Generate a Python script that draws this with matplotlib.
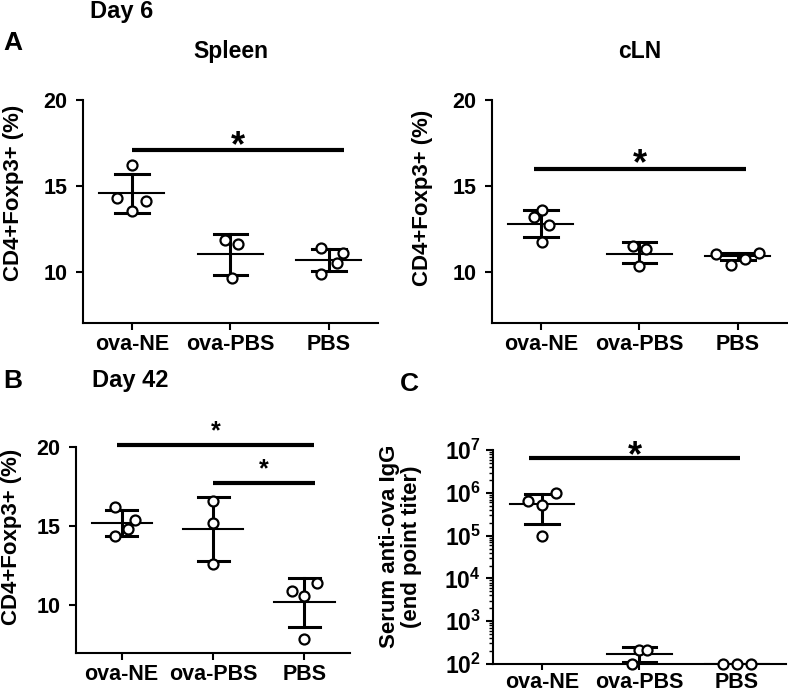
import matplotlib
matplotlib.use('Agg')
import matplotlib.pyplot as plt
from matplotlib.ticker import LogLocator, FixedLocator, FixedFormatter, NullFormatter

plt.rcParams['font.family'] = ['Liberation Sans', 'DejaVu Sans']
plt.rcParams['font.weight'] = 'bold'
plt.rcParams['mathtext.fontset'] = 'custom'
plt.rcParams['mathtext.bf'] = 'Liberation Sans:bold'
plt.rcParams['mathtext.rm'] = 'Liberation Sans:bold'

groups = ['ova-NE', 'ova-PBS', 'PBS']

# Day 6 spleen
spleen_pts = [[16.2, 14.3, 14.1, 13.5], [11.85, 11.6, 9.65], [11.35, 11.1, 10.5, 9.85]]
spleen_jit = [[0, -0.15, 0.14, 0], [-0.06, 0.08, 0.02], [-0.08, 0.14, 0.08, -0.08]]
spleen_mean = [14.55, 11.0, 10.7]
spleen_lo = [13.4, 9.8, 10.05]
spleen_hi = [15.7, 12.2, 11.3]

# Day 6 cLN
cln_pts = [[13.6, 13.2, 12.7, 11.7], [11.5, 11.3, 10.3], [11.05, 10.4, 10.75, 11.1]]
cln_jit = [[0.01, -0.07, 0.08, 0.01], [-0.07, 0.07, 0], [-0.22, -0.07, 0.07, 0.21]]
cln_mean = [12.8, 11.05, 10.9]
cln_lo = [12.0, 10.5, 10.65]
cln_hi = [13.6, 11.7, 11.1]

# Day 42
d42_pts = [[16.2, 15.4, 14.8, 14.4], [16.6, 15.2, 12.6], [10.9, 10.6, 11.4, 7.9]]
d42_jit = [[-0.07, 0.15, 0.07, -0.07], [0, 0, 0], [-0.14, 0, 0.14, 0]]
d42_mean = [15.2, 14.8, 10.2]
d42_lo = [14.4, 12.8, 8.65]
d42_hi = [16.0, 16.8, 11.75]

# Serum IgG titer
igg_pts = [[6.3e5, 5.3e5, 1.0e6, 1.0e5], [210, 210, 100], [100, 100, 100]]
igg_jit = [[-0.14, 0, 0.14, 0], [0, 0.08, -0.08], [-0.14, 0, 0.14]]
igg_mean = [5.6e5, 170, 100]
igg_lo = [1.86e5, 112, 100]
igg_hi = [9.5e5, 245, 100]

fig = plt.figure(figsize=(7.88, 6.98), dpi=100)

ax_sp = fig.add_axes([0.105, 0.537, 0.375, 0.320])
ax_ln = fig.add_axes([0.624, 0.537, 0.375, 0.320])
ax_42 = fig.add_axes([0.0964, 0.0645, 0.348, 0.2955])
ax_c = fig.add_axes([0.626, 0.049, 0.371, 0.306])


def scatter_panel(ax, pts, jit, mean, lo, hi):
    for i in range(len(groups)):
        xs = [i + j for j in jit[i]]
        ax.plot([i - 0.33, i + 0.33], [mean[i], mean[i]], color='black', lw=1.5, zorder=2)
        if hi[i] != lo[i]:
            ax.plot([i, i], [lo[i], hi[i]], color='black', lw=2.2, zorder=2)
            ax.plot([i - 0.17, i + 0.17], [hi[i], hi[i]], color='black', lw=2.2, zorder=2)
            ax.plot([i - 0.17, i + 0.17], [lo[i], lo[i]], color='black', lw=2.2, zorder=2)
        ax.plot(xs, pts[i], 'o', ms=7.2, mfc='white', mec='black', mew=1.6,
                clip_on=False, zorder=3)
    ax.set_xlim(-0.5, 2.5)
    ax.set_xticks(range(len(groups)))
    ax.set_xticklabels(groups)
    for s in ['top', 'right']:
        ax.spines[s].set_visible(False)
    for s in ['left', 'bottom']:
        ax.spines[s].set_linewidth(1.5)
    ax.tick_params(direction='out', length=5, width=1.5, labelsize=15.5)
    ax.tick_params(axis='y', pad=6)
    ax.tick_params(axis='x', pad=3)
    for lab in ax.get_xticklabels() + ax.get_yticklabels():
        lab.set_fontweight('bold')


def sig_bar(ax, x0, x1, y, ystar, size):
    ax.plot([x0, x1], [y, y], color='black', lw=3, clip_on=False, solid_capstyle='butt')
    ax.text((x0 + x1) / 2, ystar, '*', ha='center', va='center', fontsize=size,
            fontweight='bold', clip_on=False)


for ax in [ax_sp, ax_ln, ax_42]:
    ax.set_ylim(7, 20)
    ax.set_yticks([10, 15, 20])
    ax.set_ylabel('CD4+Foxp3+ (%)', fontsize=16, fontweight='bold')

scatter_panel(ax_sp, spleen_pts, spleen_jit, spleen_mean, spleen_lo, spleen_hi)
scatter_panel(ax_ln, cln_pts, cln_jit, cln_mean, cln_lo, cln_hi)
scatter_panel(ax_42, d42_pts, d42_jit, d42_mean, d42_lo, d42_hi)

ax_sp.yaxis.set_label_coords(-0.20, 0.585)
ax_ln.yaxis.set_label_coords(-0.197, 0.56)
ax_42.yaxis.set_label_coords(-0.197, 0.563)

ax_sp.set_title('Spleen', fontsize=16.5, fontweight='bold', pad=30)
ax_ln.set_title('cLN', fontsize=16.5, fontweight='bold', pad=30)

sig_bar(ax_sp, 0, 2.15, 17.1, 17.3, 26)
sig_bar(ax_ln, -0.07, 2.08, 16.0, 16.2, 26)
sig_bar(ax_42, -0.05, 2.1, 20.1, 21.0, 18)
sig_bar(ax_42, 1.0, 2.12, 17.7, 18.6, 18)

# panel C, log scale
ax_c.set_yscale('log')
scatter_panel(ax_c, igg_pts, igg_jit, igg_mean, igg_lo, igg_hi)
ax_c.set_ylim(1e2, 1e7)
decades = [1e2, 1e3, 1e4, 1e5, 1e6, 1e7]
ax_c.yaxis.set_major_locator(FixedLocator(decades))
ax_c.yaxis.set_major_formatter(FixedFormatter([r'$\mathbf{10^{%d}}$' % p for p in range(2, 8)]))
ax_c.yaxis.set_minor_locator(LogLocator(base=10, subs=range(2, 10), numticks=20))
ax_c.yaxis.set_minor_formatter(NullFormatter())
ax_c.tick_params(axis='y', which='minor', length=3, width=1)
ax_c.tick_params(axis='y', which='major', labelsize=16.5, pad=4)
ax_c.tick_params(axis='x', length=4, pad=2)
ax_c.set_ylabel('Serum anti-ova IgG\n(end point titer)', fontsize=16, fontweight='bold',
                linespacing=1.05)
ax_c.yaxis.set_label_coords(-0.245, 0.55)
sig_bar(ax_c, -0.13, 2.03, 6.6e6, 7.0e6, 26)

fig.text(0.114, 0.983, 'Day 6', fontsize=17, fontweight='bold', va='center')
fig.text(0.004, 0.938, 'A', fontsize=19, fontweight='bold', va='center')
fig.text(0.004, 0.454, 'B', fontsize=19, fontweight='bold', va='center')
fig.text(0.117, 0.455, 'Day 42', fontsize=17, fontweight='bold', va='center')
fig.text(0.508, 0.450, 'C', fontsize=19, fontweight='bold', va='center')

fig.savefig('out.png', dpi=100)
